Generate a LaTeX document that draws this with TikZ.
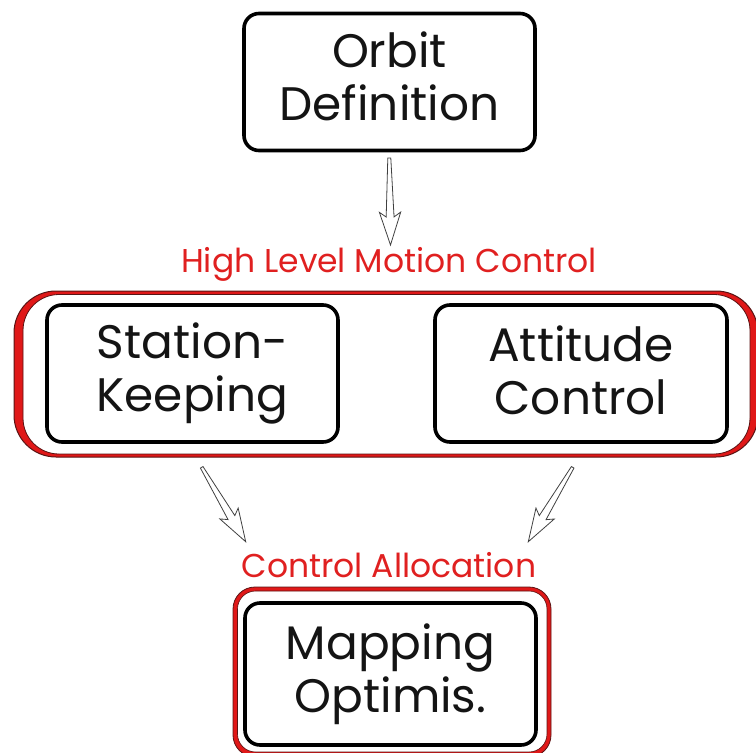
\documentclass[tikz,border=0pt]{standalone}
\usepackage{fontspec}
\setmainfont{Poppins}
\usetikzlibrary{calc}
\definecolor{gred}{HTML}{E01818}
\definecolor{gdark}{HTML}{5A1414}
\definecolor{tred}{HTML}{E02020}
\tikzset{
  blk/.style={draw=black, line width=3.6pt, rounded corners=15pt, fill=white,
    minimum width=291pt, minimum height=137pt, inner sep=0pt},
  txt/.style={inner sep=0pt, align=center, text=black!92,
    font=\fontsize{47}{53}\selectfont},
  lbl/.style={text=tred, inner sep=0pt, font=\fontsize{33}{38}\selectfont},
  harrow/.style={draw=black!75, line width=0.8pt, fill=white, line join=miter,
    to path={(\tikztotarget)
      -- ($(\tikztotarget)!34.5pt!18:(\tikztostart)$)
      -- ($(\tikztotarget)!28.3pt!8:(\tikztostart)$)
      -- ($(\tikztostart)!1.5pt!-90:(\tikztotarget)$)
      -- ($(\tikztostart)!1.5pt!90:(\tikztotarget)$)
      -- ($(\tikztotarget)!28.3pt!-8:(\tikztostart)$)
      -- ($(\tikztotarget)!34.5pt!-18:(\tikztostart)$)
      -- cycle}}
}
\begin{document}
\begin{tikzpicture}[x=1pt,y=-1pt]
\useasboundingbox (0,0) rectangle (756,753);
% high level group frame
\fill[gred, even odd rule]
  [rounded corners=42pt] (14,291) rectangle (758,457)
  [rounded corners=36pt] (23,294.5) rectangle (750,454);
\draw[gdark, line width=1pt, rounded corners=42pt] (14,291) rectangle (758,457);
\draw[gdark, line width=0.8pt, rounded corners=36pt] (23,294.5) rectangle (750,454);
% control allocation frame
\fill[gred, even odd rule]
  [rounded corners=22pt] (233,587) rectangle (551,757)
  [rounded corners=18pt] (237.5,591) rectangle (547,752);
\draw[gdark, line width=0.8pt, rounded corners=22pt] (233,587) rectangle (551,757);
\draw[gdark, line width=0.6pt, rounded corners=18pt] (237.5,591) rectangle (547,752);

\node[blk] (orbit) at (389.5,82) {};
\node[blk] (sk) at (192.5,373.5) {};
\node[blk, minimum width=292pt] (ac) at (581,373.5) {};
\node[blk, minimum height=142pt] (mo) at (390.5,674) {};

\node[txt] (orbitT) at ($(orbit.center)+(0,-6)$) {Orbit\\Definition};
\node[txt] (skT) at ($(sk.center)+(0,0)$) {Station-\\Keeping};
\node[txt] (acT) at ($(ac.center)+(0,-3.5)$) {Attitude\\Control};
\node[txt] (moT) at ($(mo.center)+(0,0)$) {Mapping\\Optimis.};

\node[lbl] (hl) at (389,264) {High Level Motion Control};
\node[lbl] (ca) at (389,565) {Control Allocation};

\coordinate (a1s) at (389.3,158);
\coordinate (a1e) at (390.5,245);
\coordinate (a2s) at (201.7,467.3);
\coordinate (a2e) at (245.7,541.7);
\coordinate (a3s) at (572.7,467.3);
\coordinate (a3e) at (528.3,541.7);
\path[harrow] (a1s) to (a1e);
\path[harrow] (a2s) to (a2e);
\path[harrow] (a3s) to (a3e);
\end{tikzpicture}
\end{document}
